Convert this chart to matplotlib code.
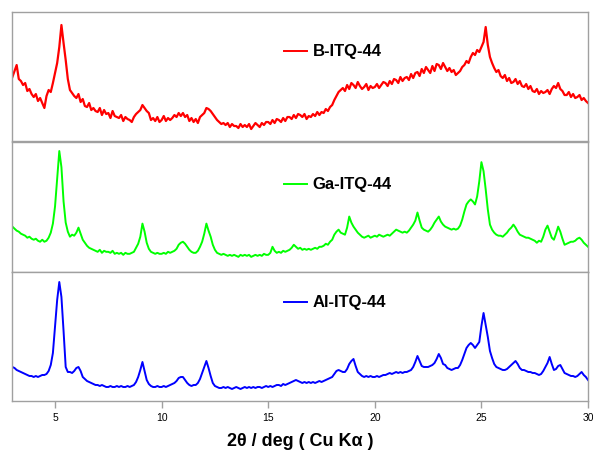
import numpy as np
import matplotlib.pyplot as plt

plt.rcParams['font.family'] = ['Liberation Sans', 'DejaVu Sans']

# 2-theta grid, 3.0 .. 30.0 deg in 0.1 deg steps
two_theta = np.round(np.arange(3.0, 30.01, 0.1), 1)

# intensities (arb. units)
b_itq44 = [
    64, 70, 76, 62, 60, 56, 58, 50, 52, 47,
    44, 47, 40, 43, 38, 33, 45, 51, 49, 58,
    68, 78, 94, 116, 98, 81, 62, 51, 48, 45,
    43, 47, 39, 42, 35, 34, 38, 31, 33, 30,
    29, 33, 26, 31, 27, 28, 23, 30, 25, 24,
    23, 26, 20, 24, 22, 21, 19, 24, 27, 29,
    31, 36, 33, 30, 28, 21, 23, 20, 24, 19,
    21, 25, 20, 23, 21, 23, 26, 24, 28, 25,
    28, 24, 26, 20, 23, 19, 22, 18, 24, 26,
    28, 33, 32, 30, 27, 24, 21, 19, 17, 18,
    16, 18, 14, 17, 15, 15, 13, 17, 14, 16,
    14, 17, 12, 15, 18, 16, 14, 18, 16, 19,
    19, 17, 21, 18, 22, 21, 19, 23, 20, 24,
    24, 22, 26, 23, 27, 26, 24, 27, 22, 25,
    24, 27, 25, 29, 26, 29, 28, 32, 30, 34,
    36, 41, 45, 49, 51, 53, 50, 56, 52, 58,
    56, 53, 59, 55, 52, 54, 57, 51, 55, 53,
    54, 57, 53, 56, 59, 58, 55, 60, 57, 62,
    61, 58, 64, 60, 63, 64, 61, 67, 63, 68,
    69, 65, 72, 68, 74, 71, 68, 75, 70, 77,
    76, 72, 78, 74, 70, 73, 69, 71, 66, 68,
    70, 74, 76, 80, 78, 84, 88, 86, 91, 89,
    94, 99, 114, 96, 84, 78, 73, 69, 71, 65,
    63, 66, 60, 63, 58, 59, 62, 57, 60, 55,
    54, 57, 52, 55, 50, 49, 52, 47, 50, 48,
    49, 51, 47, 52, 55, 53, 58, 52, 50, 46,
    46, 49, 44, 47, 43, 44, 46, 41, 43, 40,
    38,
]

ga_itq44 = [
    45, 43, 41, 40, 38, 37, 36, 34, 35, 33,
    32, 33, 31, 30, 32, 30, 31, 34, 39, 48,
    65, 92, 120, 104, 70, 49, 40, 35, 37, 36,
    39, 44, 38, 32, 29, 26, 24, 23, 22, 21,
    20, 22, 19, 21, 20, 20, 19, 21, 18, 19,
    18, 19, 17, 19, 18, 18, 19, 20, 24, 28,
    35, 48, 40, 29, 23, 20, 19, 18, 19, 18,
    18, 19, 18, 20, 19, 20, 21, 23, 27, 29,
    30, 28, 25, 22, 20, 19, 19, 21, 25, 30,
    38, 48, 41, 35, 27, 22, 19, 18, 17, 18,
    17, 16, 17, 16, 17, 16, 15, 17, 16, 17,
    16, 17, 15, 16, 17, 16, 17, 16, 18, 17,
    17, 19, 25, 21, 19, 20, 19, 21, 20, 21,
    22, 24, 27, 25, 23, 24, 22, 23, 22, 23,
    22, 23, 24, 23, 25, 25, 26, 28, 27, 30,
    32, 37, 40, 42, 39, 38, 37, 44, 55, 49,
    45, 42, 39, 37, 35, 34, 35, 36, 34, 35,
    36, 35, 37, 36, 35, 36, 37, 36, 38, 40,
    42, 41, 40, 39, 40, 39, 41, 44, 47, 51,
    59, 51, 44, 42, 41, 40, 42, 45, 49, 52,
    55, 50, 47, 45, 44, 43, 42, 43, 42, 43,
    46, 52, 60, 67, 70, 72, 70, 67, 75, 90,
    109, 100, 82, 62, 47, 42, 39, 37, 36, 36,
    35, 37, 39, 42, 44, 47, 44, 40, 37, 36,
    35, 34, 34, 33, 32, 31, 29, 31, 30, 35,
    42, 46, 40, 34, 32, 38, 45, 40, 33, 27,
    28, 29, 30, 30, 31, 33, 34, 32, 29, 27,
    25,
]

al_itq44 = [
    34, 33, 31, 30, 29, 28, 27, 26, 25, 25,
    24, 25, 24, 25, 26, 26, 27, 30, 36, 48,
    74, 101, 119, 104, 70, 34, 29, 29, 28, 30,
    33, 34, 30, 24, 22, 20, 19, 18, 17, 16,
    16, 15, 16, 15, 14, 14, 15, 14, 14, 15,
    14, 15, 14, 14, 15, 14, 15, 16, 19, 24,
    31, 39, 30, 21, 17, 15, 14, 14, 15, 14,
    14, 15, 14, 15, 16, 17, 18, 20, 23, 24,
    24, 21, 18, 16, 15, 16, 16, 18, 22, 28,
    34, 40, 33, 25, 18, 15, 14, 13, 13, 14,
    13, 14, 13, 12, 13, 14, 13, 12, 13, 14,
    13, 14, 13, 14, 13, 14, 14, 13, 14, 15,
    14, 15, 14, 15, 16, 16, 15, 17, 16, 17,
    18, 19, 20, 21, 20, 19, 18, 19, 18, 19,
    18, 19, 18, 19, 20, 19, 20, 21, 22, 23,
    24, 27, 30, 31, 30, 29, 29, 32, 37, 40,
    42, 35, 29, 27, 25, 24, 25, 24, 25, 24,
    24, 25, 24, 25, 26, 26, 27, 28, 27, 28,
    29, 28, 29, 28, 29, 29, 30, 31, 34, 39,
    45, 40, 35, 34, 34, 34, 35, 36, 38, 42,
    47, 43, 37, 36, 33, 32, 31, 32, 33, 33,
    36, 41, 47, 53, 56, 58, 56, 53, 56, 59,
    75, 88, 76, 64, 50, 43, 37, 34, 33, 32,
    31, 31, 32, 34, 36, 38, 40, 37, 33, 31,
    31, 30, 29, 29, 28, 28, 27, 26, 27, 30,
    34, 38, 44, 37, 31, 32, 35, 36, 32, 28,
    27, 26, 25, 25, 24, 25, 27, 29, 26, 24,
    21,
]

samples = ["B-ITQ-44", "Ga-ITQ-44", "Al-ITQ-44"]
patterns = [b_itq44, ga_itq44, al_itq44]
colors = ["#ff0000", "#00ff00", "#0000ff"]
widths = [1.6, 1.4, 1.4]

fig = plt.figure(figsize=(5.93, 4.53), dpi=100)

# panel placement (figure fractions)
left, width = 0.0209, 0.9707
panels = [(0.6887, 0.2848), (0.3996, 0.2870), (0.1148, 0.2848)]
legend_y = [0.69, 0.67, 0.76]

for i, (name, y, c) in enumerate(zip(samples, patterns, colors)):
    bottom, height = panels[i]
    ax = fig.add_axes([left, bottom, width, height])
    ax.plot(two_theta, y, color=c, lw=widths[i], label=name)
    ax.set_xlim(3, 30)
    ax.set_ylim(0, 129)
    ax.set_yticks([])
    for s in ax.spines.values():
        s.set_color("#a0a0a0")
        s.set_linewidth(1.0)
    leg = ax.legend(loc="center left", bbox_to_anchor=(0.472, legend_y[i]),
                    frameon=False, borderpad=0, borderaxespad=0,
                    handlelength=1.4, handletextpad=0.3,
                    prop={"size": 12, "weight": "bold"})
    for h in leg.get_lines():
        h.set_linewidth(1.4)
    if i < 2:
        ax.set_xticks([])
    else:
        ax.set_xticks([5, 10, 15, 20, 25, 30])
        ax.tick_params(axis="x", direction="out", length=5, width=1,
                       color="#a0a0a0", labelsize=7.5, pad=4)
        ax.set_xlabel("2θ / deg ( Cu Kα )", fontsize=13, fontweight="bold",
                      labelpad=7)

fig.savefig("out.png", dpi=100)
